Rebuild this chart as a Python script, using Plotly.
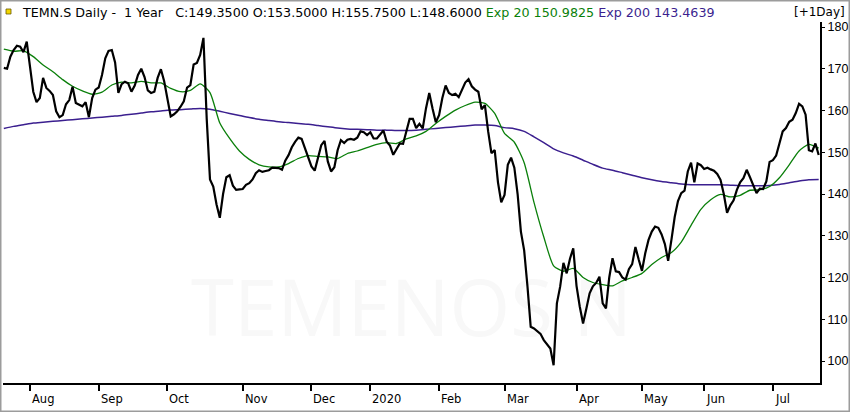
import numpy as np
import pandas as pd
import plotly.graph_objects as go

# ---------------- data ----------------
holidays = ["2019-08-01", "2019-12-24", "2019-12-25", "2019-12-26", "2019-12-31",
            "2020-01-01", "2020-01-02", "2020-04-10", "2020-04-13", "2020-05-01",
            "2020-05-21", "2020-06-01"]
start_date = "2019-07-22"
end_date = "2020-07-21"

close = [
    170.2, 170.0, 172.9, 174.5, 175.5, 175.3, 174.0, 176.5, 170.5, 164.5,
    162.0, 163.0, 167.8, 165.4, 164.7, 163.7, 159.8, 158.4, 158.9, 161.5,
    162.5, 165.7, 161.8, 161.4, 161.0, 162.0, 158.4, 163.0, 165.0, 165.5,
    168.5, 172.5, 174.3, 174.5, 171.5, 164.2, 166.3, 166.9, 166.5, 164.5,
    166.0, 168.5, 170.0, 168.0, 164.8, 164.2, 164.5, 167.8, 169.9, 167.0,
    163.0, 158.6, 159.1, 159.8, 160.9, 162.2, 165.5, 166.1, 171.0, 171.4,
    173.3, 177.4, 158.0, 143.5, 141.8, 137.5, 134.3, 140.0, 144.0, 144.5,
    142.0, 141.0, 141.1, 141.2, 142.2, 142.6, 143.5, 145.0, 145.7, 145.3,
    145.5, 145.7, 146.3, 146.2, 146.2, 145.8, 148.0, 149.3, 151.2, 152.5,
    153.5, 153.2, 151.0, 148.4, 146.6, 145.6, 148.5, 151.7, 152.7, 147.8,
    145.4, 146.4, 150.5, 152.9, 152.2, 153.0, 153.2, 153.0, 153.5, 155.0,
    154.8, 154.1, 154.8, 153.3, 153.3, 154.3, 155.2, 152.5, 151.6, 149.4,
    150.8, 152.1, 152.0, 155.4, 158.0, 158.0, 155.8, 156.8, 155.7, 160.5,
    164.2, 160.5, 157.2, 158.9, 163.0, 166.0, 164.2, 163.7, 164.0, 163.2,
    164.8, 166.7, 167.5, 165.8, 165.0, 164.5, 160.3, 161.3, 155.0, 149.8,
    150.5, 142.8, 138.0, 139.8, 147.0, 148.7, 146.3, 140.0, 131.0, 126.5,
    118.0, 108.2, 107.8, 107.2, 106.5, 105.0, 104.1, 103.0, 99.0, 113.8,
    117.8, 123.5, 121.0, 124.5, 127.0, 118.0, 113.0, 109.0, 112.5, 116.2,
    117.9, 118.7, 120.2, 113.8, 112.6, 120.0, 124.6, 121.5, 121.3, 120.0,
    119.5, 122.0, 123.2, 127.3, 124.3, 121.6, 125.8, 129.0, 131.0, 132.2,
    131.9, 130.3, 128.0, 124.0, 129.0, 134.5, 138.3, 140.2, 140.8, 145.4,
    147.5, 142.8, 147.3, 146.9, 146.0, 146.3, 145.9, 145.6, 144.8, 143.4,
    140.0, 135.5, 137.3, 138.5, 141.0, 142.8, 143.8, 145.8, 144.0, 142.2,
    140.2, 141.3, 141.2, 143.0, 147.7, 148.1, 149.2, 152.1, 155.0, 155.8,
    157.3, 157.8, 159.4, 161.6, 161.0, 159.0, 150.5, 150.2, 152.1, 149.35,
]

# moving averages read every 3rd trading day
ema_step = 3
exp20 = [
    174.7, 174.2, 174.3, 172.9, 170.9, 169.3, 167.4, 165.8, 164.7, 163.9,
    164.4, 166.1, 166.8, 166.6, 167.0, 166.6, 166.6, 165.3, 164.5, 164.8,
    166.4, 164.3, 157.0, 153.3, 150.3, 148.3, 147.0, 146.5, 146.5, 147.3,
    148.5, 149.2, 149.0, 148.9, 148.5, 149.7, 150.3, 151.1, 151.9, 152.3,
    152.1, 153.2, 153.9, 155.0, 156.9, 158.6, 160.1, 161.2, 162.0, 161.7,
    159.3, 154.5, 152.4, 147.5, 138.0, 129.7, 122.8, 121.5, 122.2, 120.0,
    118.8, 118.3, 118.0, 119.2, 120.0, 121.0, 123.1, 124.8, 126.0, 128.5,
    132.5, 136.3, 138.6, 139.9, 139.3, 139.7, 140.9, 141.0, 141.8, 143.9,
    147.0, 150.3, 151.9, 150.98,
]
exp200 = [
    155.7, 156.2, 156.6, 157.0, 157.2, 157.4, 157.6, 157.8, 158.0, 158.2,
    158.4, 158.6, 158.8, 159.1, 159.4, 159.7, 159.9, 160.1, 160.2, 160.35,
    160.5, 160.3, 159.8, 159.3, 158.8, 158.3, 157.9, 157.6, 157.3, 157.1,
    156.9, 156.7, 156.4, 156.1, 155.8, 155.6, 155.5, 155.4, 155.3, 155.3,
    155.2, 155.2, 155.3, 155.5, 155.7, 155.9, 156.1, 156.3, 156.5, 156.5,
    156.4, 155.9, 155.65, 155.0, 153.7, 152.3, 150.8, 149.85, 149.1, 148.1,
    147.1, 146.2, 145.7, 145.1, 144.5, 143.9, 143.4, 143.0, 142.7, 142.4,
    142.2, 142.2, 142.2, 142.2, 142.1, 142.0, 142.0, 141.95, 142.05, 142.3,
    142.7, 143.1, 143.4, 143.46,
]

y_ticks = [100, 110, 120, 130, 140, 150, 160, 170, 180]
NB = "\u00a0"
header_main = "TEMN.S Daily -" + NB * 2 + "1 Year" + NB * 3 + "C:149.3500 O:153.5000 H:155.7500 L:148.6000"
header_exp20 = "Exp 20 150.9825"
header_exp200 = "Exp 200 143.4639"
watermark = "TEMENOS N"

# ---------------- derived ----------------
dates = pd.bdate_range(start_date, end_date, freq="C", holidays=holidays)
n = len(close)
dates = dates[:n]
idx = np.arange(n)
ema_idx = idx[::ema_step][:len(exp20)]

month_ticks, month_labels = [], []
for i in range(1, n):
    if dates[i].month != dates[i - 1].month:
        month_ticks.append(int(idx[i]))
        month_labels.append(str(dates[i].year) if dates[i].month == 1 else dates[i].strftime("%b"))

W, H = 850, 412
ML, MR, MT, MB = 3, 30, 22, 29
PW, PH = W - ML - MR, H - MT - MB

BLACK = "#000000"
GREEN = "#0a7f0a"
PURPLE = "#3b1f8f"
FONT = "DejaVu Sans"

fig = go.Figure()
fig.add_trace(go.Scatter(x=ema_idx, y=exp200, mode="lines",
                         line=dict(color=PURPLE, width=1.5, shape="spline", smoothing=0.6),
                         hoverinfo="skip", showlegend=False))
fig.add_trace(go.Scatter(x=ema_idx, y=exp20, mode="lines",
                         line=dict(color=GREEN, width=1.3, shape="spline", smoothing=0.6),
                         hoverinfo="skip", showlegend=False))
fig.add_trace(go.Scatter(x=idx, y=close, mode="lines",
                         line=dict(color=BLACK, width=2.2),
                         showlegend=False))

annotations = []
for t, lab in zip(month_ticks, month_labels):
    annotations.append(dict(x=t, y=0, xref="x", yref="paper", text=lab, showarrow=False,
                            xanchor="left", yanchor="top", xshift=0, yshift=-7,
                            font=dict(family=FONT, size=11.5, color=BLACK)))

annotations.append(dict(
    x=(20 - ML) / PW, y=1 + (MT - 12) / PH, xref="paper", yref="paper",
    xanchor="left", yanchor="middle", showarrow=False,
    text=(header_main + " <span style='color:%s'>%s</span> <span style='color:%s'>%s</span>"
          % (GREEN, header_exp20, PURPLE, header_exp200)),
    font=dict(family=FONT, size=12.7, color=BLACK)))
annotations.append(dict(
    x=1 + (MR - 3) / PW, y=1 + (MT - 12) / PH, xref="paper", yref="paper",
    xanchor="right", yanchor="middle", showarrow=False, text="[+1Day]",
    font=dict(family=FONT, size=12, color=BLACK)))

shapes = [
    # faint watermark, drawn beneath the traces
    dict(type="rect", xref="paper", yref="paper", x0=0.05, x1=0.95, y0=0.08, y1=0.32,
         line=dict(width=0), fillcolor="rgba(0,0,0,0)", layer="below",
         label=dict(text=watermark, textposition="middle center",
                    font=dict(family="Open Sans", size=78, color="#f8f8f8"))),
    dict(type="rect", xref="paper", yref="paper",
         x0=-ML / PW, x1=1 + MR / PW, y0=-MB / PH, y1=1 + MT / PH,
         line=dict(color="#9c9c9c", width=3), fillcolor="rgba(0,0,0,0)", layer="above"),
    dict(type="rect", xref="paper", yref="paper",
         x0=(6 - ML) / PW, x1=(11 - ML) / PW, y0=1 + (MT - 14) / PH, y1=1 + (MT - 9) / PH,
         line=dict(color="#6b5a00", width=0.8), fillcolor="#f2d600"),
]

fig.update_layout(
    width=W, height=H,
    margin=dict(l=ML, r=MR, t=MT, b=MB),
    paper_bgcolor="white", plot_bgcolor="white",
    annotations=annotations, shapes=shapes,
    showlegend=False,
    xaxis=dict(range=[-0.25, 249.4], showgrid=False, zeroline=False,
               showline=True, linecolor=BLACK, linewidth=2,
               tickmode="array", tickvals=month_ticks, ticks="outside",
               ticklen=6, tickwidth=1.5, tickcolor=BLACK, showticklabels=False),
    yaxis=dict(range=[94.73, 181.2], side="right", showgrid=False, zeroline=False,
               showline=True, linecolor=BLACK, linewidth=2, automargin=False,
               tickmode="array", tickvals=y_ticks, ticks="outside", ticklen=3,
               tickcolor=BLACK,
               tickfont=dict(family="Liberation Sans Narrow, Liberation Sans", size=12.5, color=BLACK)),
)

fig.write_html("out.html", config={"displayModeBar": False},
               post_script="document.body.style.margin='0';document.body.style.overflow='hidden';")
